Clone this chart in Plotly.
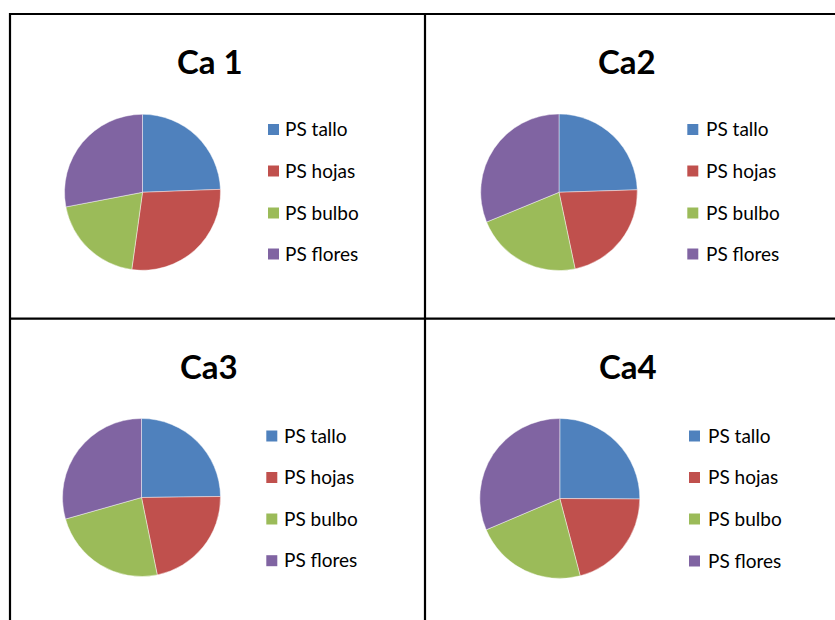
import plotly.graph_objects as go

# Dry-weight share per organ for each calcium treatment
categories = ["PS tallo", "PS hojas", "PS bulbo", "PS flores"]
titles = ["Ca 1", "Ca2", "Ca3", "Ca4"]
ca1 = [24.4, 27.8, 19.8, 28.0]
ca2 = [24.5, 22.2, 22.1, 31.2]
ca3 = [24.8, 22.0, 23.8, 29.4]
ca4 = [25.1, 20.8, 22.7, 31.4]
series = [ca1, ca2, ca3, ca4]

colors = ["#4F81BD", "#C0504D", "#9BBB59", "#8064A2"]

W, H = 835, 620
FONT = "Lato"


def px(x):
    return x / W


def py(y):
    return 1 - y / H


# pie centre (x, y), radius, title centre, legend swatch left, legend text left, legend row ys
panels = [
    dict(c=(142.5, 192.3), r=78.0, t=(209.5, 61), sw=268.0, tx=282.5, rows=[129.5, 171, 213, 254]),
    dict(c=(559.0, 192.3), r=78.3, t=(626.5, 61), sw=687.3, tx=703.5, rows=[129.5, 171, 213, 254]),
    dict(c=(141.5, 497.5), r=79.0, t=(209.0, 366), sw=266.3, tx=282.0, rows=[436, 477.5, 519, 560.7]),
    dict(c=(559.8, 498.5), r=80.0, t=(628.0, 366), sw=689.0, tx=706.0, rows=[436, 477.5, 519, 561]),
]

fig = go.Figure()
annotations = []
shapes = []

for title, vals, p in zip(titles, series, panels):
    cx, cy = p["c"]
    r = p["r"]
    fig.add_trace(go.Pie(
        labels=categories,
        values=vals,
        sort=False,
        direction="clockwise",
        rotation=0,
        textinfo="none",
        hoverinfo="label+percent",
        showlegend=False,
        marker=dict(colors=colors, line=dict(color="rgba(255,255,255,0.55)", width=0.8)),
        domain=dict(x=[px(cx - r), px(cx + r)], y=[py(cy + r), py(cy - r)]),
    ))
    annotations.append(dict(
        text="<b>%s</b>" % title, x=px(p["t"][0]), y=py(p["t"][1]),
        xref="paper", yref="paper", xanchor="center", yanchor="middle",
        showarrow=False, font=dict(family=FONT, size=33, color="#000000"),
    ))
    for name, col, ry in zip(categories, colors, p["rows"]):
        shapes.append(dict(
            type="rect", xref="paper", yref="paper",
            x0=px(p["sw"]), x1=px(p["sw"] + 11), y0=py(ry + 5.5), y1=py(ry - 5.5),
            fillcolor=col, line=dict(width=0),
        ))
        annotations.append(dict(
            text=name, x=px(p["tx"]), y=py(ry - 0.8),
            xref="paper", yref="paper", xanchor="left", yanchor="middle",
            showarrow=False, font=dict(family=FONT, size=19, color="#000000"),
        ))

# panel grid lines
grid = [
    (9, 14, 835, 14),
    (9, 318.7, 835, 318.7),
    (10, 13, 10, 620),
    (425, 13, 425, 620),
]
for x0, y0, x1, y1 in grid:
    shapes.append(dict(
        type="line", xref="paper", yref="paper",
        x0=px(x0), y0=py(y0), x1=px(x1), y1=py(y1),
        line=dict(color="#000000", width=2.2),
    ))

fig.update_layout(
    width=W, height=H,
    margin=dict(l=0, r=0, t=0, b=0),
    paper_bgcolor="#FFFFFF",
    plot_bgcolor="#FFFFFF",
    annotations=annotations,
    shapes=shapes,
    showlegend=False,
)

fig.write_html("out.html")
